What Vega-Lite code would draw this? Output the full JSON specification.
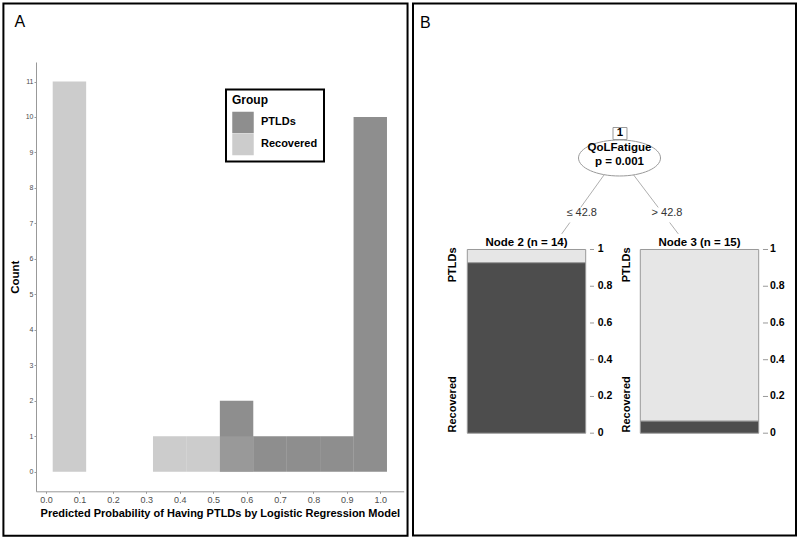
{
  "$schema": "https://vega.github.io/schema/vega-lite/v6.json",
  "padding": {"left": 2, "top": 2, "right": 0, "bottom": 0},
  "spacing": 3,
  "background": "white",
  "config": {
    "view": {"stroke": null},
    "font": "Liberation Sans",
    "axis": {"grid": false, "domainColor": "#999999", "tickColor": "#999999", "domainWidth": 1, "labelOverlap": false}
  },
  "resolve": {"scale": {"color": "independent"}, "legend": {"color": "independent"}},
  "hconcat": [
    {
      "width": 367.7,
      "height": 429.3,
      "layer": [
        {
          "data": {"values": [
            {"Group": "PTLDs", "lo": 0.52, "hi": 0.62, "count": 2},
            {"Group": "PTLDs", "lo": 0.62, "hi": 0.72, "count": 1},
            {"Group": "PTLDs", "lo": 0.72, "hi": 0.82, "count": 1},
            {"Group": "PTLDs", "lo": 0.82, "hi": 0.92, "count": 1},
            {"Group": "PTLDs", "lo": 0.92, "hi": 1.02, "count": 10},
            {"Group": "Recovered", "lo": 0.02, "hi": 0.12, "count": 11},
            {"Group": "Recovered", "lo": 0.32, "hi": 0.42, "count": 1},
            {"Group": "Recovered", "lo": 0.42, "hi": 0.52, "count": 1},
            {"Group": "Recovered", "lo": 0.52, "hi": 0.62, "count": 1}
          ]},
          "mark": {"type": "bar", "opacity": 0.55},
          "encoding": {
            "x": {"field": "lo", "type": "quantitative",
              "scale": {"domain": [-0.03, 1.07], "nice": false, "zero": false},
              "axis": {"values": [0, 0.1, 0.2, 0.3, 0.4, 0.5, 0.6, 0.7, 0.8, 0.9, 1.0], "format": ".1f", "labelOverlap": false,
                "title": "Predicted Probability of Having PTLDs by Logistic Regression Model",
                "labelFontSize": 9, "labelColor": "#4d4d4d", "tickSize": 2, "labelPadding": 2,
                "titleFontSize": 11, "titleFontWeight": "bold", "titleColor": "black", "titlePadding": 3}},
            "x2": {"field": "hi"},
            "y": {"field": "count", "type": "quantitative",
              "scale": {"domain": [-0.55, 11.55], "nice": false, "zero": false},
              "axis": {"values": [0, 1, 2, 3, 4, 5, 6, 7, 8, 9, 10, 11], "title": "Count", "labelOverlap": false,
                "labelFontSize": 7, "labelColor": "#4d4d4d", "tickSize": 2, "labelPadding": 1,
                "titleFontSize": 11.5, "titleFontWeight": "bold", "titleColor": "black", "titlePadding": 5}},
            "y2": {"datum": 0},
            "color": {"field": "Group", "type": "nominal",
              "scale": {"domain": ["PTLDs", "Recovered"], "range": ["#313131", "#a2a2a2"]},
              "legend": {"orient": "none", "legendX": 190, "legendY": 27.5, "title": "Group",
                "titleFontSize": 12, "titleFontWeight": "bold", "titleColor": "black", "titlePadding": 4,
                "labelFontSize": 11, "labelFontWeight": "bold", "labelColor": "black",
                "symbolType": "square", "symbolSize": 462, "symbolStrokeWidth": 0, "symbolOpacity": 0.55,
                "rowPadding": 0, "labelOffset": 7, "padding": 6, "strokeColor": "black",
                "encode": {"legend": {"update": {"strokeWidth": {"value": 2}}}}}}
          }
        },
        {
          "data": {"values": [{}]},
          "mark": {"type": "rect", "filled": false, "stroke": "black", "strokeWidth": 2},
          "encoding": {
            "x": {"datum": -0.1275, "type": "quantitative",
              "axis": {"values": [0, 0.1, 0.2, 0.3, 0.4, 0.5, 0.6, 0.7, 0.8, 0.9, 1.0], "format": ".1f", "labelOverlap": false,
                "title": "Predicted Probability of Having PTLDs by Logistic Regression Model",
                "labelFontSize": 9, "labelColor": "#4d4d4d", "tickSize": 2, "labelPadding": 2,
                "titleFontSize": 11, "titleFontWeight": "bold", "titleColor": "black", "titlePadding": 3}},
            "x2": {"datum": 1.0815},
            "y": {"datum": 13.202, "type": "quantitative",
              "axis": {"values": [0, 1, 2, 3, 4, 5, 6, 7, 8, 9, 10, 11], "title": "Count", "labelOverlap": false,
                "labelFontSize": 7, "labelColor": "#4d4d4d", "tickSize": 2, "labelPadding": 1,
                "titleFontSize": 11.5, "titleFontWeight": "bold", "titleColor": "black", "titlePadding": 5}},
            "y2": {"datum": -1.805}
          }
        },
        {
          "data": {"values": [{}]},
          "mark": {"type": "text", "text": "A", "fontSize": 16, "fontWeight": "normal", "align": "left", "baseline": "middle", "color": "black"},
          "encoding": {
            "x": {"datum": -0.0946, "type": "quantitative",
              "axis": {"values": [0, 0.1, 0.2, 0.3, 0.4, 0.5, 0.6, 0.7, 0.8, 0.9, 1.0], "format": ".1f", "labelOverlap": false,
                "title": "Predicted Probability of Having PTLDs by Logistic Regression Model",
                "labelFontSize": 9, "labelColor": "#4d4d4d", "tickSize": 2, "labelPadding": 2,
                "titleFontSize": 11, "titleFontWeight": "bold", "titleColor": "black", "titlePadding": 3}},
            "y": {"datum": 12.666, "type": "quantitative",
              "axis": {"values": [0, 1, 2, 3, 4, 5, 6, 7, 8, 9, 10, 11], "title": "Count", "labelOverlap": false,
                "labelFontSize": 7, "labelColor": "#4d4d4d", "tickSize": 2, "labelPadding": 1,
                "titleFontSize": 11.5, "titleFontWeight": "bold", "titleColor": "black", "titlePadding": 5}}
          }
        }
      ]
    },
    {
      "width": 383,
      "height": 429.3,
      "layer": [
        {
          "data": {"values": [{}]},
          "mark": {"type": "rect", "filled": false, "stroke": "black", "strokeWidth": 2},
          "encoding": {
            "x": {"datum": 0, "type": "quantitative", "scale": {"domain": [0, 1], "nice": false, "zero": false}, "axis": null},
            "x2": {"datum": 1},
            "y": {"datum": 2.3392, "type": "quantitative", "scale": {"domain": [-0.3163, 2.0207], "nice": false, "zero": false}, "axis": null},
            "y2": {"datum": -0.5569}
          }
        },
        {
          "data": {"values": [
            {"x": 0.4995, "y": 1.408, "x2": 0.4379, "y2": 1.229},
            {"x": 0.4096, "y": 1.147, "x2": 0.3883, "y2": 1.085},
            {"x": 0.5752, "y": 1.408, "x2": 0.6403, "y2": 1.229},
            {"x": 0.6702, "y": 1.147, "x2": 0.6927, "y2": 1.085}
          ]},
          "mark": {"type": "rule", "color": "#999999", "strokeWidth": 0.8},
          "encoding": {
            "x": {"field": "x", "type": "quantitative", "scale": {"domain": [0, 1], "nice": false, "zero": false}, "axis": null},
            "x2": {"field": "x2"},
            "y": {"field": "y", "type": "quantitative", "scale": {"domain": [-0.3163, 2.0207], "nice": false, "zero": false}, "axis": null},
            "y2": {"field": "y2"}
          }
        },
        {
          "data": {"values": [{"x": 0.5392, "y": 1.4981}]},
          "mark": {"type": "point", "filled": true, "fill": "white", "fillOpacity": 1, "stroke": "#999999", "strokeWidth": 1, "opacity": 1, "size": 6724,
            "shape": "M-1,0C-1,-0.2425,-0.5523,-0.439,0,-0.439C0.5523,-0.439,1,-0.2425,1,0C1,0.2425,0.5523,0.439,0,0.439C-0.5523,0.439,-1,0.2425,-1,0Z"},
          "encoding": {
            "x": {"field": "x", "type": "quantitative", "axis": null},
            "y": {"field": "y", "type": "quantitative", "axis": null}
          }
        },
        {
          "data": {"values": [{"x0": 0.5222, "x1": 0.5587, "y0": 1.5988, "y1": 1.6641}]},
          "mark": {"type": "rect", "fill": "white", "stroke": "#999999", "strokeWidth": 1},
          "encoding": {
            "x": {"field": "x0", "type": "quantitative", "axis": null},
            "x2": {"field": "x1"},
            "y": {"field": "y0", "type": "quantitative", "axis": null},
            "y2": {"field": "y1"}
          }
        },
        {
          "data": {"values": [
            {"x": 0.5405, "y": 1.6315, "t": "1"},
            {"x": 0.5392, "y": 1.5536, "t": "QoLFatigue"},
            {"x": 0.5392, "y": 1.4752, "t": "p = 0.001"},
            {"x": 0.2964, "y": 1.0365, "t": "Node 2 (n = 14)"},
            {"x": 0.7481, "y": 1.0365, "t": "Node 3 (n = 15)"}
          ]},
          "mark": {"type": "text", "fontSize": 11.5, "fontWeight": "bold", "color": "black", "align": "center", "baseline": "middle"},
          "encoding": {
            "x": {"field": "x", "type": "quantitative", "axis": null},
            "y": {"field": "y", "type": "quantitative", "axis": null},
            "text": {"field": "t"}
          }
        },
        {
          "data": {"values": [
            {"x": 0.4405, "y": 1.196, "t": "≤ 42.8"},
            {"x": 0.6632, "y": 1.196, "t": "> 42.8"}
          ]},
          "mark": {"type": "text", "fontSize": 11, "color": "#333333", "align": "center", "baseline": "middle"},
          "encoding": {
            "x": {"field": "x", "type": "quantitative", "axis": null},
            "y": {"field": "y", "type": "quantitative", "axis": null},
            "text": {"field": "t"}
          }
        },
        {
          "data": {"values": [
            {"node": "Node 2", "x0": 0.1418, "x1": 0.4509, "cls": "Recovered", "lo": 0, "hi": 0.9286},
            {"node": "Node 2", "x0": 0.1418, "x1": 0.4509, "cls": "PTLDs", "lo": 0.9286, "hi": 1},
            {"node": "Node 3", "x0": 0.5935, "x1": 0.9026, "cls": "Recovered", "lo": 0, "hi": 0.0667},
            {"node": "Node 3", "x0": 0.5935, "x1": 0.9026, "cls": "PTLDs", "lo": 0.0667, "hi": 1}
          ]},
          "mark": {"type": "rect", "stroke": "#999999", "strokeWidth": 1},
          "encoding": {
            "x": {"field": "x0", "type": "quantitative", "axis": null},
            "x2": {"field": "x1"},
            "y": {"field": "lo", "type": "quantitative", "axis": null},
            "y2": {"field": "hi"},
            "color": {"field": "cls", "type": "nominal", "scale": {"domain": ["Recovered", "PTLDs"], "range": ["#4d4d4d", "#e6e6e6"]}, "legend": null}
          }
        },
        {
          "data": {"values": [
            {"t0": 0.4621, "t1": 0.4726, "lx": 0.4822, "v": 0, "lab": "0"},
            {"t0": 0.4621, "t1": 0.4726, "lx": 0.4822, "v": 0.2, "lab": "0.2"},
            {"t0": 0.4621, "t1": 0.4726, "lx": 0.4822, "v": 0.4, "lab": "0.4"},
            {"t0": 0.4621, "t1": 0.4726, "lx": 0.4822, "v": 0.6, "lab": "0.6"},
            {"t0": 0.4621, "t1": 0.4726, "lx": 0.4822, "v": 0.8, "lab": "0.8"},
            {"t0": 0.4621, "t1": 0.4726, "lx": 0.4822, "v": 1, "lab": "1"},
            {"t0": 0.9138, "t1": 0.9269, "lx": 0.9321, "v": 0, "lab": "0"},
            {"t0": 0.9138, "t1": 0.9269, "lx": 0.9321, "v": 0.2, "lab": "0.2"},
            {"t0": 0.9138, "t1": 0.9269, "lx": 0.9321, "v": 0.4, "lab": "0.4"},
            {"t0": 0.9138, "t1": 0.9269, "lx": 0.9321, "v": 0.6, "lab": "0.6"},
            {"t0": 0.9138, "t1": 0.9269, "lx": 0.9321, "v": 0.8, "lab": "0.8"},
            {"t0": 0.9138, "t1": 0.9269, "lx": 0.9321, "v": 1, "lab": "1"}
          ]},
          "layer": [
            {
              "mark": {"type": "rule", "color": "#999999", "strokeWidth": 1},
              "encoding": {
                "x": {"field": "t0", "type": "quantitative", "axis": null},
                "x2": {"field": "t1"},
                "y": {"field": "v", "type": "quantitative", "axis": null}
              }
            },
            {
              "mark": {"type": "text", "fontSize": 10.5, "fontWeight": "bold", "color": "black", "align": "left", "baseline": "middle"},
              "encoding": {
                "x": {"field": "lx", "type": "quantitative", "axis": null},
                "y": {"field": "v", "type": "quantitative", "axis": null},
                "text": {"field": "lab"}
              }
            }
          ]
        },
        {
          "data": {"values": [{"x": 0.1052, "y": 1.011, "t": "PTLDs"}, {"x": 0.558, "y": 1.011, "t": "PTLDs"}]},
          "mark": {"type": "text", "angle": 270, "fontSize": 11, "fontWeight": "bold", "color": "black", "align": "right", "baseline": "middle"},
          "encoding": {
            "x": {"field": "x", "type": "quantitative", "axis": null},
            "y": {"field": "y", "type": "quantitative", "axis": null},
            "text": {"field": "t"}
          }
        },
        {
          "data": {"values": [{"x": 0.1052, "y": 0.004, "t": "Recovered"}, {"x": 0.558, "y": 0.004, "t": "Recovered"}]},
          "mark": {"type": "text", "angle": 270, "fontSize": 11, "fontWeight": "bold", "color": "black", "align": "left", "baseline": "middle"},
          "encoding": {
            "x": {"field": "x", "type": "quantitative", "axis": null},
            "y": {"field": "y", "type": "quantitative", "axis": null},
            "text": {"field": "t"}
          }
        },
        {
          "data": {"values": [{}]},
          "mark": {"type": "text", "text": "B", "fontSize": 16, "fontWeight": "normal", "align": "left", "baseline": "middle", "color": "black"},
          "encoding": {
            "x": {"datum": 0.0183, "type": "quantitative", "axis": null},
            "y": {"datum": 2.2357, "type": "quantitative", "axis": null}
          }
        }
      ]
    }
  ]
}
